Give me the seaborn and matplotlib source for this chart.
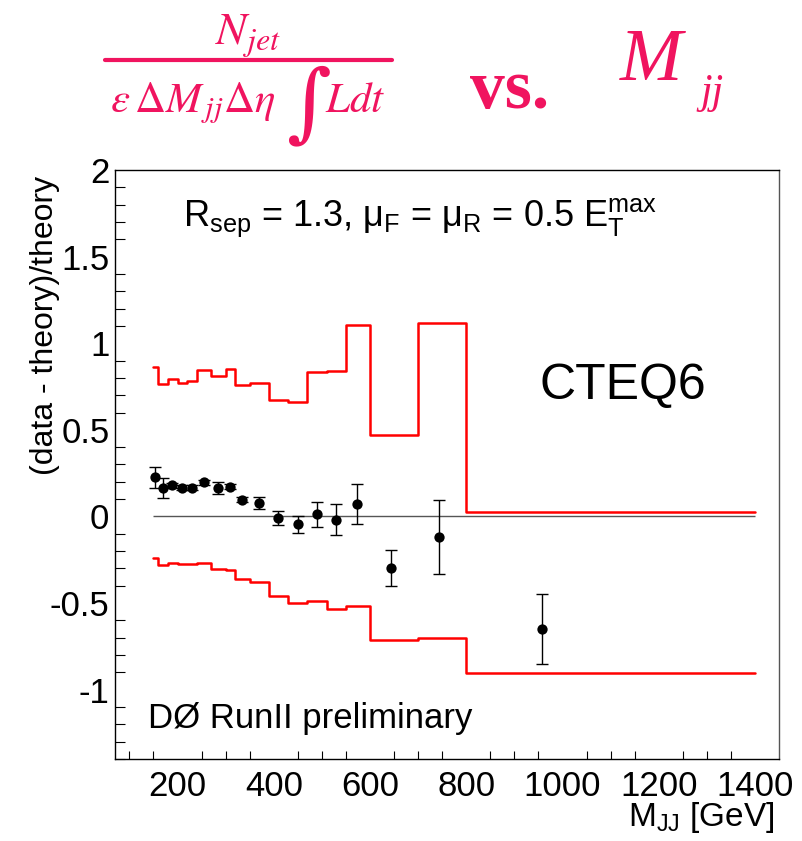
import numpy as np
import pandas as pd
import matplotlib
matplotlib.use("Agg")
import matplotlib.pyplot as plt
from matplotlib.lines import Line2D
import seaborn as sns

# ---- data ----
bin_edges = [150, 160, 180, 200, 220, 240, 270, 300, 320, 350, 390, 430, 470,
             510, 550, 600, 700, 800, 1400]
upper_band = [0.865, 0.764, 0.792, 0.773, 0.784, 0.846, 0.813, 0.850, 0.758,
              0.773, 0.673, 0.663, 0.833, 0.842, 1.106, 0.469, 1.115, 0.023]
lower_band = [-0.240, -0.279, -0.267, -0.275, -0.275, -0.269, -0.302, -0.307,
              -0.361, -0.381, -0.461, -0.498, -0.490, -0.536, -0.515, -0.711,
              -0.701, -0.903]
mass = [154, 169, 189, 209, 230, 255, 284, 310, 334, 369, 409, 450, 490, 529,
        573, 644, 744, 957]
ratio = [0.225, 0.164, 0.179, 0.167, 0.167, 0.198, 0.164, 0.171, 0.096, 0.079,
         -0.009, -0.044, 0.012, -0.019, 0.073, -0.300, -0.119, -0.648]
ratio_err = [0.062, 0.058, 0.015, 0.012, 0.012, 0.015, 0.034, 0.015, 0.015,
             0.036, 0.039, 0.049, 0.070, 0.090, 0.115, 0.104, 0.214, 0.203]
xticks = [200, 400, 600, 800, 1000, 1200, 1400]
yticks = [-1, -0.5, 0, 0.5, 1, 1.5, 2]

sns.set_style("white")
plt.rcParams['font.family'] = ['Liberation Sans', 'DejaVu Sans']
plt.rcParams['mathtext.fontset'] = 'custom'
plt.rcParams['mathtext.rm'] = 'Liberation Sans'
plt.rcParams['mathtext.it'] = 'Liberation Sans:italic'
plt.rcParams['mathtext.bf'] = 'Liberation Sans:bold'
plt.rcParams['axes.unicode_minus'] = False
for k in ['text.color', 'axes.labelcolor', 'xtick.color', 'ytick.color']:
    plt.rcParams[k] = 'black'

W, H = 803, 841
fig = plt.figure(figsize=(W / 100, H / 100), dpi=100)
L, R, T, B = 115, 779, 170, 759
ax = fig.add_axes([L / W, 1 - B / H, (R - L) / W, (B - T) / H])

red = '#ff0000'
step_df = pd.DataFrame({
    'x': bin_edges,
    'up': upper_band + [upper_band[-1]],
    'lo': lower_band + [lower_band[-1]],
})
sns.lineplot(data=step_df, x='x', y='up', ax=ax, color=red, lw=1.8,
             drawstyle='steps-post', estimator=None, sort=False)
sns.lineplot(data=step_df, x='x', y='lo', ax=ax, color=red, lw=1.8,
             drawstyle='steps-post', estimator=None, sort=False)

ax.hlines(0, bin_edges[0], bin_edges[-1], color='#555555', lw=1.0, zorder=1)

ax.errorbar(mass, ratio, yerr=ratio_err, fmt='none', ecolor='black',
            elinewidth=1.0, capsize=4, capthick=1.0, zorder=3)
sns.scatterplot(x=mass, y=ratio, ax=ax, color='black', s=55,
                edgecolor='black', linewidth=0, zorder=4)

ax.set_xlim(70, 1450)
ax.set_ylim(-1.4, 2)
ax.set_xticks(xticks)
ax.set_xticklabels([str(v) for v in xticks])
ax.set_yticks(yticks)
ax.set_yticklabels(['%g' % v for v in yticks])
ax.set_xticks(np.arange(100, 1450, 50), minor=True)
ax.set_yticks(np.arange(-1.4, 2.0, 0.1), minor=True)
ax.tick_params(axis='both', which='major', direction='in', labelsize=25,
               top=False, right=False, color='black', labelcolor='black')
ax.tick_params(axis='y', which='major', length=14, width=1, pad=4)
ax.tick_params(axis='x', which='major', length=13, width=1, pad=8)
ax.tick_params(axis='y', which='minor', direction='in', length=7, width=0.8,
               left=True, right=False)
ax.tick_params(axis='x', which='minor', direction='in', length=6, width=0.8,
               bottom=True, top=False)
for s in ax.spines.values():
    s.set_color('black')
    s.set_linewidth(1.0)
ax.spines['right'].set_color('#555555')

ax.set_ylabel('(data - theory)/theory', fontsize=23, loc='top')
ax.yaxis.set_label_coords(-0.083, 0.99)
ax.set_xlabel(r'M$_{\rm JJ}$ [GeV]', fontsize=24, loc='right')
ax.xaxis.set_label_coords(0.994, -0.07)

ax.text(0.103, 0.905, r'R$_{\rm sep}$ = 1.3, μ$_{\rm F}$ = μ$_{\rm R}$ = 0.5 E$_{\rm T}^{\rm max}$',
        transform=ax.transAxes, fontsize=26, ha='left', va='baseline')
ax.text(952, 0.679, 'CTEQ6', fontsize=36, ha='left', va='baseline')
ax.text(0.05, 0.052, 'DØ RunII preliminary', transform=ax.transAxes,
        fontsize=25, ha='left', va='baseline')

# ---- title formula ----
pink = '#f0145f'
def fx(px):
    return px / W
def fy(py):
    return 1 - py / H

fig.text(fx(248), fy(45), r'$N_{jet}$', fontsize=33, color=pink, ha='center',
         va='baseline', math_fontfamily='stix')
fig.add_artist(Line2D([fx(105), fx(392)], [fy(60), fy(60)], color=pink, lw=3))
fig.text(fx(110), fy(112), r'$\varepsilon\,\Delta M_{\,jj}\Delta\eta$', fontsize=31,
         color=pink, ha='left', va='baseline', math_fontfamily='stix')
fig.text(fx(308), fy(130), '\u222b', fontsize=62, color=pink, ha='center',
         va='baseline', family='DejaVu Serif', weight='light')
fig.text(fx(325), fy(112), r'$Ldt$', fontsize=31, color=pink, ha='left',
         va='baseline', math_fontfamily='stix')
fig.text(fx(470), fy(108), 'vs.', fontsize=50, color=pink, ha='left',
         va='baseline', family='Liberation Serif', weight='bold')
fig.text(fx(620), fy(80), 'M', fontsize=54, color=pink, ha='left',
         va='baseline', family='Liberation Serif', style='italic')
fig.text(fx(700), fy(103), 'jj', fontsize=30, color=pink, ha='left',
         va='baseline', family='Liberation Serif', style='italic')

fig.savefig('out.png', dpi=100, facecolor='white')
